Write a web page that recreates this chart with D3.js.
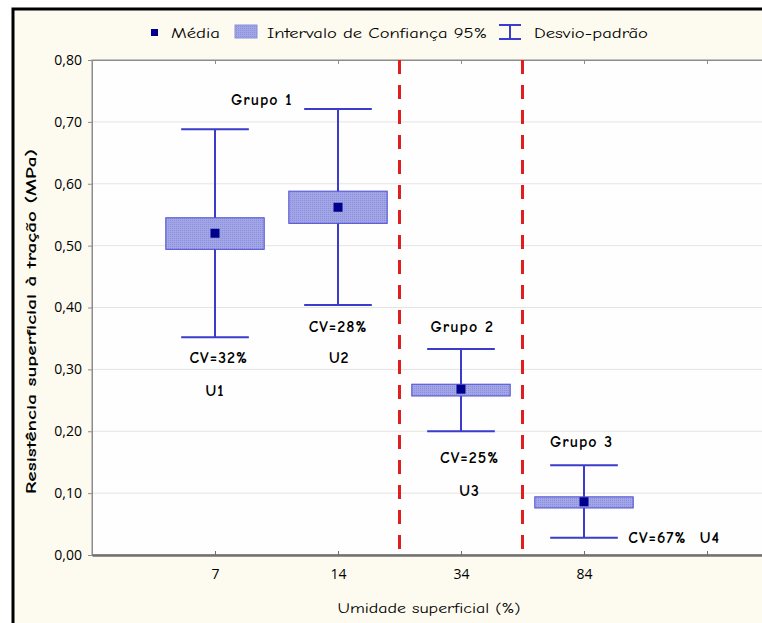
<!DOCTYPE html>
<html>
<head>
<meta charset="utf-8">
<script src="https://cdn.jsdelivr.net/npm/d3@7/dist/d3.min.js"></script>
<style>
  html, body { margin: 0; padding: 0; background: #ffffff; }
  svg { display: block; }
  text { font-family: "Comic Sans MS", "Comic Neue", "Open Sans", sans-serif; fill: #000; }
</style>
</head>
<body>
<div id="chart"></div>
<script>
// ---- data ----
const categories = ["7", "14", "34", "84", ""];
const seriesNames = ["U1", "U2", "U3", "U4"];
const means  = [0.520, 0.562, 0.268, 0.086];
const ciLow  = [0.494, 0.536, 0.257, 0.076];
const ciHigh = [0.545, 0.588, 0.276, 0.094];
const sdLow  = [0.352, 0.404, 0.200, 0.028];
const sdHigh = [0.688, 0.721, 0.333, 0.145];
const groupDividers = [2.5, 3.5];
const yTicks = [0.0, 0.1, 0.2, 0.3, 0.4, 0.5, 0.6, 0.7, 0.8];
const annotations = [
  { text: "Grupo 1", x: 1.38, y: 0.735, anchor: "middle" },
  { text: "CV=32%", x: 1.03, y: 0.318, anchor: "middle" },
  { text: "U1",     x: 1.00, y: 0.265, anchor: "middle" },
  { text: "CV=28%", x: 2.00, y: 0.369, anchor: "middle" },
  { text: "U2",     x: 2.01, y: 0.318, anchor: "middle" },
  { text: "Grupo 2", x: 3.01, y: 0.368, anchor: "middle" },
  { text: "CV=25%", x: 3.07, y: 0.157, anchor: "middle" },
  { text: "U3",     x: 3.07, y: 0.104, anchor: "middle" },
  { text: "Grupo 3", x: 3.98, y: 0.183, anchor: "middle" },
  { text: "CV=67%  U4", x: 4.36, y: 0.028, anchor: "start" }
];

// ---- layout ----
const W = 762, H = 623;
const plot = { left: 92, top: 60, bottom: 555, right: 830 };

const svg = d3.select("#chart").append("svg").attr("width", W).attr("height", H);

// outer frame
svg.append("rect").attr("x", 0).attr("y", 0).attr("width", W).attr("height", H).attr("fill", "#ffffff");
svg.append("rect").attr("x", 13).attr("y", 9).attr("width", W + 20).attr("height", H + 20)
  .attr("fill", "#fdfbef").attr("stroke", "#000").attr("stroke-width", 3);

const x = d3.scaleLinear().domain([0, 6]).range([plot.left, plot.right]);
const y = d3.scaleLinear().domain([0, 0.8]).range([plot.bottom, plot.top]);

// plot background
svg.append("rect").attr("x", plot.left).attr("y", plot.top)
  .attr("width", plot.right - plot.left).attr("height", plot.bottom - plot.top)
  .attr("fill", "#fefefe").attr("stroke", "#8c8c8c").attr("stroke-width", 1);

// grid
svg.append("g").selectAll("line").data(yTicks.slice(1, -1)).join("line")
  .attr("x1", plot.left).attr("x2", plot.right)
  .attr("y1", d => y(d)).attr("y2", d => y(d))
  .attr("stroke", "#e4e4e4").attr("stroke-width", 1);

const fmt = v => d3.format(".2f")(v).replace(".", ",");

// y axis
const yAxis = svg.append("g").attr("transform", `translate(${plot.left},0)`)
  .call(d3.axisLeft(y).tickValues(yTicks).tickFormat(fmt).tickSize(4).tickPadding(6));
yAxis.select(".domain").attr("stroke", "#8c8c8c");
yAxis.selectAll(".tick line").attr("stroke", "#8c8c8c");
yAxis.selectAll(".tick text").style("font-size", "14px").attr("fill", "#000")
  .style("font-family", "\"Comic Sans MS\", \"Open Sans\", sans-serif");

// x axis (bottom)
const xTickVals = d3.range(1, categories.length + 1);
const xAxis = svg.append("g").attr("transform", `translate(0,${plot.bottom})`)
  .call(d3.axisBottom(x).tickValues(xTickVals).tickFormat((d, i) => categories[i]).tickSizeInner(-4).tickSizeOuter(0).tickPadding(14));
xAxis.select(".domain").attr("stroke", "#707070").attr("stroke-width", 2.5);
xAxis.selectAll(".tick line").attr("stroke", "#707070");
xAxis.selectAll(".tick text").style("font-size", "14px").attr("fill", "#000")
  .style("font-family", "\"Comic Sans MS\", \"Open Sans\", sans-serif");

// top ticks
const xTop = svg.append("g").attr("transform", `translate(0,${plot.top})`)
  .call(d3.axisTop(x).tickValues(xTickVals).tickFormat("").tickSizeInner(-4).tickSizeOuter(0));
xTop.select(".domain").attr("stroke", "#8c8c8c");
xTop.selectAll(".tick line").attr("stroke", "#8c8c8c");

// group dividers
svg.append("g").selectAll("line").data(groupDividers).join("line")
  .attr("x1", d => x(d)).attr("x2", d => x(d))
  .attr("y1", plot.top).attr("y2", plot.bottom)
  .attr("stroke", "#e01e1e").attr("stroke-width", 3).attr("stroke-dasharray", "14,11");

// pattern for CI box
const defs = svg.append("defs");
const pat = defs.append("pattern").attr("id", "dots").attr("width", 2).attr("height", 2)
  .attr("patternUnits", "userSpaceOnUse");
pat.append("rect").attr("width", 2).attr("height", 2).attr("fill", "#a2a6e6");
pat.append("rect").attr("width", 1).attr("height", 1).attr("fill", "#8a8fdc");

const boxW = 0.8, capW = 0.55;
const idx = d3.range(means.length);
const g = svg.append("g");

// whiskers
g.selectAll("line.v").data(idx).join("line").attr("class", "v")
  .attr("x1", i => x(i + 1)).attr("x2", i => x(i + 1))
  .attr("y1", i => y(sdLow[i])).attr("y2", i => y(sdHigh[i]))
  .attr("stroke", "#3b3bcc").attr("stroke-width", 2);
g.selectAll("line.capT").data(idx).join("line").attr("class", "capT")
  .attr("x1", i => x(i + 1 - capW / 2)).attr("x2", i => x(i + 1 + capW / 2))
  .attr("y1", i => y(sdHigh[i])).attr("y2", i => y(sdHigh[i]))
  .attr("stroke", "#3b3bcc").attr("stroke-width", 2);
g.selectAll("line.capB").data(idx).join("line").attr("class", "capB")
  .attr("x1", i => x(i + 1 - capW / 2)).attr("x2", i => x(i + 1 + capW / 2))
  .attr("y1", i => y(sdLow[i])).attr("y2", i => y(sdLow[i]))
  .attr("stroke", "#3b3bcc").attr("stroke-width", 2);

// CI boxes
g.selectAll("rect.ci").data(idx).join("rect").attr("class", "ci")
  .attr("x", i => x(i + 1 - boxW / 2)).attr("width", i => x(i + 1 + boxW / 2) - x(i + 1 - boxW / 2))
  .attr("y", i => y(ciHigh[i])).attr("height", i => y(ciLow[i]) - y(ciHigh[i]))
  .attr("fill", "url(#dots)").attr("stroke", "#4a4ad2").attr("stroke-width", 1);

// means
const ms = 9;
g.selectAll("rect.mean").data(idx).join("rect").attr("class", "mean")
  .attr("x", i => x(i + 1) - ms / 2).attr("y", i => y(means[i]) - ms / 2)
  .attr("width", ms).attr("height", ms).attr("fill", "#00008c");

// annotations
svg.append("g").selectAll("text").data(annotations).join("text")
  .attr("x", d => x(d.x)).attr("y", d => y(d.y))
  .attr("text-anchor", d => d.anchor).attr("dominant-baseline", "central")
  .style("font-size", "16px").style("font-weight", "600").style("letter-spacing", "1px")
  .style("white-space", "pre")
  .text(d => d.text);

// axis titles
svg.append("text").attr("transform", `translate(31,${(plot.top + plot.bottom) / 2 + 14}) rotate(-90)`)
  .attr("text-anchor", "middle").attr("dominant-baseline", "central")
  .style("font-size", "14px").style("font-weight", "bold")
  .attr("textLength", 345).attr("lengthAdjust", "spacingAndGlyphs")
  .text("Resistência superficial à tração (MPa)");
svg.append("text").attr("x", 429).attr("y", 608)
  .attr("text-anchor", "middle").attr("dominant-baseline", "central")
  .style("font-size", "14px")
  .attr("textLength", 183).attr("lengthAdjust", "spacingAndGlyphs")
  .text("Umidade superficial (%)");

// legend
const lg = svg.append("g");
const ly = 33;
lg.append("rect").attr("x", 151).attr("y", ly - 4).attr("width", 7).attr("height", 7).attr("fill", "#00008c");
lg.append("text").attr("x", 171).attr("y", ly).attr("dominant-baseline", "central")
  .style("font-size", "14px").attr("textLength", 49).attr("lengthAdjust", "spacingAndGlyphs").text("Média");
lg.append("rect").attr("x", 235).attr("y", ly - 8).attr("width", 22).attr("height", 13)
  .attr("fill", "url(#dots)").attr("stroke", "#8a8fdc").attr("stroke-width", 1);
lg.append("text").attr("x", 267).attr("y", ly).attr("dominant-baseline", "central")
  .style("font-size", "14px").attr("textLength", 220).attr("lengthAdjust", "spacingAndGlyphs").text("Intervalo de Confiança 95%");
lg.append("line").attr("x1", 499).attr("x2", 521).attr("y1", ly - 8).attr("y2", ly - 8).attr("stroke", "#3b3bcc").attr("stroke-width", 2);
lg.append("line").attr("x1", 499).attr("x2", 521).attr("y1", ly + 6).attr("y2", ly + 6).attr("stroke", "#3b3bcc").attr("stroke-width", 2);
lg.append("line").attr("x1", 510).attr("x2", 510).attr("y1", ly - 8).attr("y2", ly + 6).attr("stroke", "#3b3bcc").attr("stroke-width", 2);
lg.append("text").attr("x", 534).attr("y", ly).attr("dominant-baseline", "central")
  .style("font-size", "14px").attr("textLength", 114).attr("lengthAdjust", "spacingAndGlyphs").text("Desvio-padrão");
</script>
</body>
</html>
